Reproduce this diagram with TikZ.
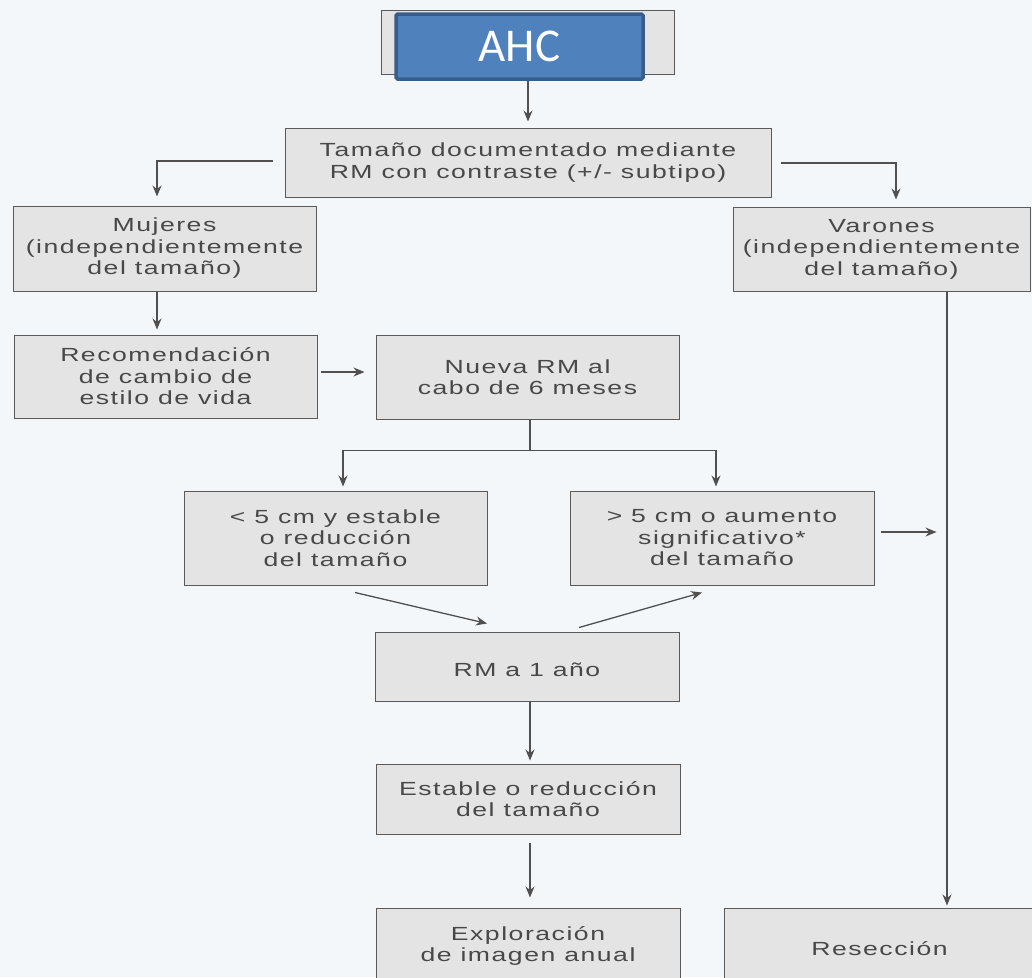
\documentclass[tikz,border=0pt]{standalone}
\usepackage{fontspec}
\usetikzlibrary{arrows.meta,calc}
\newfontfamily\boxfont[FakeStretch=1.4,LetterSpace=8]{Liberation Sans}
\newfontfamily\ahcfont{Carlito}
\definecolor{bg}{HTML}{F4F7FA}
\definecolor{boxfill}{HTML}{E4E4E4}
\definecolor{boxline}{HTML}{5A5A5A}
\definecolor{txt}{HTML}{484848}
\definecolor{ahcblue}{HTML}{4F81BD}
\definecolor{ahcedge}{HTML}{385D8A}
\definecolor{arrcol}{HTML}{505050}
\tikzset{
  box/.style={draw=boxline, fill=boxfill, line width=1pt, inner sep=0pt, align=center,
    text=txt, font=\boxfont\fontsize{19}{21.5}\selectfont,
    execute at begin node={\rule{0pt}{20pt}}},
  ahcbox/.style={draw=ahcedge, fill=ahcblue, line width=3.5pt, rounded corners=1.5pt,
    text=white, font=\ahcfont\fontsize{47}{50}\selectfont, inner sep=0pt},
  arr/.style={draw=arrcol, line width=1.3pt, -{Stealth[length=11pt,width=9pt]}},
  ln/.style={draw=arrcol, line width=1.3pt}
}
\begin{document}
\begin{tikzpicture}[x=1pt,y=-1pt]
\path[use as bounding box, fill=bg] (0,0) rectangle (1032,977);
\clip (0,0) rectangle (1032,977);

% nodes
\node[box, minimum width=293pt, minimum height=64pt, execute at begin node={}] (ahcbg) at (527.5,42) {};
\node[ahcbox, minimum width=247pt, minimum height=65pt] (ahc) at (519.5,46.5) {AHC};
\node[box, minimum width=486pt, minimum height=69pt] (tam) at (528,162.5)
  {Tamaño documentado mediante\\RM con contraste (+/- subtipo)};
\node[box, minimum width=303pt, minimum height=85pt] (muj) at (164.5,248.5)
  {Mujeres\\(independientemente\\del tamaño)};
\node[box, minimum width=297pt, minimum height=84pt] (var) at (881.5,249)
  {Varones\\(independientemente\\del tamaño)};
\node[box, minimum width=303pt, minimum height=83pt] (rec) at (165.5,376.5)
  {Recomendación\\de cambio de\\estilo de vida};
\node[box, minimum width=303pt, minimum height=84pt] (nue) at (527.5,377)
  {Nueva RM al\\cabo de 6 meses};
\node[box, minimum width=303pt, minimum height=94pt] (lt5) at (335.5,538)
  {< 5 cm y estable\\o reducción\\del tamaño};
\node[box, minimum width=304pt, minimum height=94pt] (gt5) at (722,538)
  {> 5 cm o aumento\\significativo*\\del tamaño};
\node[box, minimum width=304pt, minimum height=69pt] (rm1) at (527,666.5)
  {RM a 1 año};
\node[box, minimum width=304pt, minimum height=70pt] (est) at (528,799)
  {Estable o reducción\\del tamaño};
\node[box, minimum width=304pt, minimum height=76pt] (exp) at (528,946)
  {Exploración\\de imagen anual};
\node[box, minimum width=311pt, minimum height=76pt] (res) at (879.5,946)
  {Resección};

% connectors
\draw[arr, shorten >=6pt] (ahc.south -| tam.north) -- (tam.north);
\draw[arr, shorten >=9pt] ([xshift=-12pt,yshift=1.5pt]tam.west) -| ([xshift=-7.5pt]muj.north);
\draw[arr, shorten >=7pt] ([xshift=9pt,yshift=-0.5pt]tam.east) -| ([xshift=14.5pt]var.north);
\draw[arr, shorten >=5pt] ([xshift=-7.5pt]muj.south) -- ([xshift=-7.5pt]muj.south |- rec.north);
\draw[arr, shorten <=3pt, shorten >=11pt] ([yshift=4.5pt]rec.east) -- ([yshift=4.5pt]rec.east -| nue.west);
\coordinate (split) at ($(nue.south)+(2.5,31)$);
\draw[ln] (split |- nue.south) -- (split);
\draw[arr, shorten >=4pt] (split) -| ([xshift=7.5pt]lt5.north);
\draw[arr, shorten >=4pt] (split) -| ([xshift=-6pt]gt5.north);
\coordinate (gtend) at ($(gt5.east)+(62,-6)$);
\draw[arr, shorten <=6pt] ([yshift=6pt]gt5.east) -- (gtend);
\draw[arr, shorten >=2pt] ([xshift=65.5pt]var.south) -- ([xshift=65.5pt]var.south |- res.north);
\draw[arr] ([xshift=19.5pt,yshift=-7pt]lt5.south) -- ([xshift=-40pt,yshift=8pt]rm1.north);
\draw[arr] ([xshift=52pt,yshift=4pt]rm1.north) -- ([xshift=-20pt,yshift=-7pt]gt5.south);
\draw[arr, shorten >=3pt] ([xshift=3pt]rm1.south) -- ([xshift=3pt]rm1.south |- est.north);
\draw[arr, shorten <=8pt, shorten >=10pt] ([xshift=2pt]est.south) -- ([xshift=2pt]est.south |- exp.north);
\end{tikzpicture}
\end{document}
